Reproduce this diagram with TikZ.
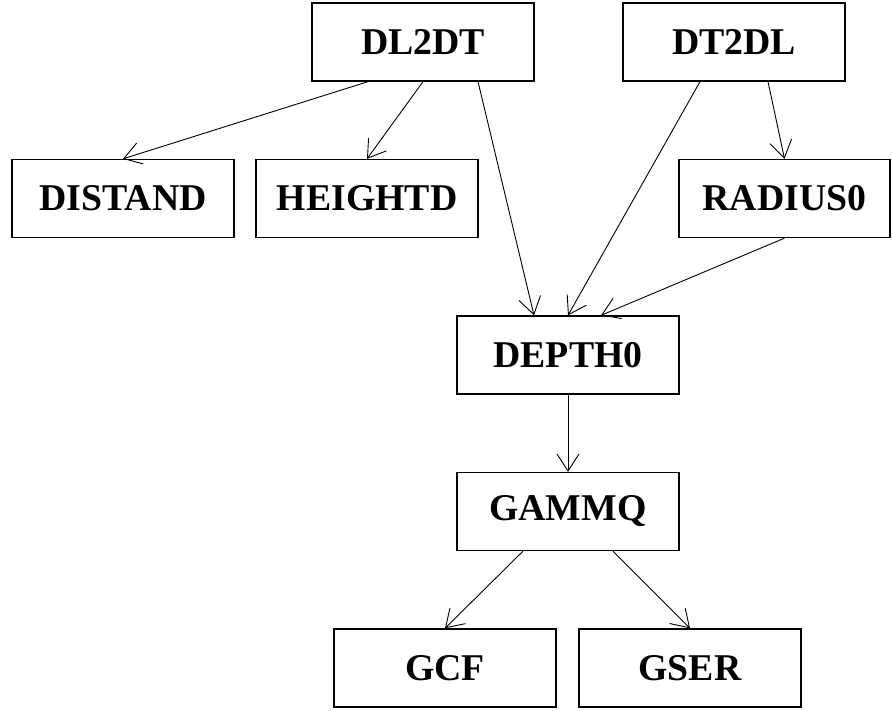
\documentclass[tikz,border=0pt]{standalone}
\usepackage{fontspec}
\setmainfont{Liberation Serif}
\usepackage{tikz}
\usetikzlibrary{arrows.meta}

\tikzset{
  box/.style={draw, line width=1.3pt, minimum width=222pt, minimum height=78pt,
    inner sep=0pt, font=\fontsize{37.8}{40}\selectfont\bfseries},
  call/.style={line width=0.9pt, -{Straight Barb[length=17pt,width=22pt,line width=0.9pt]}}
}

\begin{document}
\begin{tikzpicture}[x=1pt,y=-1pt]
\useasboundingbox (0,0) rectangle (892,711);

\coordinate (p) at (423,42); %top row
\coordinate (q) at (734,42);
\node[box] (dl) at (p) {DL2DT};
\node[box] (dt) at (q) {DT2DL};
\node[box] (dis) at (123,198.5) {DISTAND};
\node[box] (hgt) at (367,198.5) {HEIGHTD};
\node[box, minimum width=211pt] (rad) at (784.5,198.5) {RADIUS0};
\node[box] (dep) at (568,355) {DEPTH0};
\node[box] (gam) at (568,511.5) {GAMMQ};
\node[box] (gcf) at (445,668) {GCF};
\node[box] (gser) at (690,668) {GSER};

\draw[call] ([xshift=-55pt]dl.south) -- (dis.north);
\draw[call] (dl.south) -- (hgt.north);
\draw[call] ([xshift=55pt]dl.south) -- ([xshift=-34pt]dep.north);
\draw[call] ([xshift=-34pt]dt.south) -- (dep.north);
\draw[call] ([xshift=34pt]dt.south) -- (rad.north);
\draw[call] (rad.south) -- ([xshift=33pt]dep.north);
%\draw[call] (dep.south) -- (gam.north);
\draw[call] (dep) -- (gam);
\draw[call] ([xshift=-45pt]gam.south) -- (gcf.north);
\draw[call] ([xshift=45pt]gam.south) -- (gser.north);

\end{tikzpicture}
\end{document}
